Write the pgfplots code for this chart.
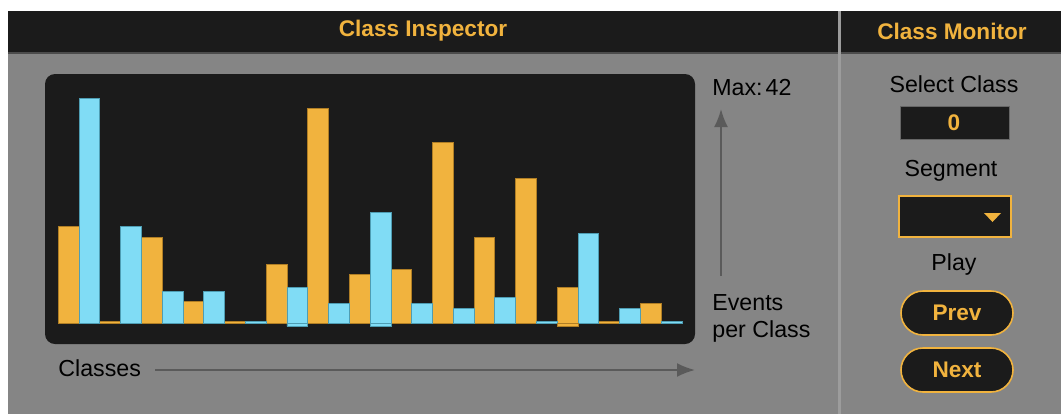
\documentclass[border=0pt]{standalone}
\usepackage{pgfplots}
\pgfplotsset{compat=1.18}
\usetikzlibrary{arrows.meta}
\usepackage{fontspec}
\setmainfont{Liberation Sans}

\definecolor{panel}{HTML}{1B1B1B}
\definecolor{bg}{HTML}{858585}
\definecolor{amber}{HTML}{F1B33E}
\definecolor{amberedge}{HTML}{B07E25}
\definecolor{sky}{HTML}{80DCF5}
\definecolor{skyedge}{HTML}{4E9DB3}
\definecolor{arrowgray}{HTML}{5A5A5A}
\definecolor{sep}{HTML}{9C9C9C}

\newcommand{\body}{\fontsize{11.6}{14}\selectfont}
\newcommand{\head}{\fontsize{11.3}{14}\selectfont\bfseries}

\begin{document}
\begin{tikzpicture}
\useasboundingbox (0,0) rectangle (530.5pt,-207pt);
\begin{scope}[x=0.5pt,y=-0.5pt]
\fill[white] (0,0) rectangle (1061,414);
% panels
\fill[bg] (8,11) rectangle (1061,414);
\fill[panel] (8,11) rectangle (1061,53);
\fill[black!70] (8,52) rectangle (1061,54);
\fill[sep] (838,11) rectangle (841,414);
\node[amber,font=\head] at (423,31) {Class Inspector};
\node[amber,font=\head] at (952,31) {Class Monitor};

% chart background
\fill[panel,rounded corners=5pt] (45,74) rectangle (695,344);

% axis labels and arrows
\node[anchor=west,font=\body,inner sep=0pt] at (712,88) {Max:\kern1.5pt 42};
\draw[arrowgray,line width=1pt,-{Latex[length=9pt,width=7pt]}] (721,276) -- (721,109);
\node[anchor=west,font=\body,inner sep=0pt] at (712,303) {Events};
\node[anchor=west,font=\body,inner sep=0pt] at (712,331) {per Class};
\node[anchor=west,font=\body,inner sep=0pt] at (58,368) {Classes};
\draw[arrowgray,line width=1pt,-{Latex[length=9pt,width=7pt]}] (155,370) -- (695,370);

% class monitor
\node[font=\body] at (954,84) {Select Class};
\fill[panel] (900,106) rectangle (1009,139);
\draw[black!60,line width=0.4pt] (900,106) rectangle (1009,139);
\node[amber,font=\head] at (954,123) {0};
\node[font=\body] at (951,171) {Segment};
\draw[amber,fill=panel,line width=1pt] (899,196) rectangle (1011,237);
\fill[amber] (984,213) -- (1001,213) -- (992.5,222) -- cycle;
\node[font=\body] at (954,264) {Play};
\draw[amber,fill=panel,line width=0.8pt,rounded corners=11pt] (901,291) rectangle (1013,335);
\node[amber,font=\head] at (957,313) {Prev};
\draw[amber,fill=panel,line width=0.8pt,rounded corners=11pt] (901,348) rectangle (1013,392);
\node[amber,font=\head] at (957,370) {Next};
\end{scope}

\begin{axis}[
  at={(29.15pt,-161.65pt)}, anchor=south west,
  scale only axis, width=311.85pt, height=112.65pt,
  xmin=-0.5, xmax=29.5, ymin=0, ymax=42,
  hide axis, clip=false]
% orange classes
\addplot[ybar, bar width=1, bar shift=0pt, fill=amber, draw=amberedge, line width=0.4pt]
coordinates {(0,18) (2,0.4) (4,16) (6,4) (8,0.4) (10,11) (12,40) (14,9.1)
 (16,10.1) (18,33.8) (20,16) (22,27) (24,6.7) (26,0.4) (28,3.7)};
% blue classes
\addplot[ybar, bar width=1, bar shift=0pt, fill=sky, draw=skyedge, line width=0.4pt]
coordinates {(1,42) (3,18) (5,6) (7,6) (9,0.4) (11,6.7) (13,3.7) (15,20.7)
 (17,3.7) (19,2.8) (21,4.8) (23,0.4) (25,16.8) (27,2.8) (29,0.4)};
% parts below the baseline
\addplot[ybar, bar width=1, bar shift=0pt, fill=sky, draw=skyedge, line width=0.4pt]
coordinates {(11,-0.55) (15,-0.55)};
\addplot[ybar, bar width=1, bar shift=0pt, fill=amber, draw=amberedge, line width=0.4pt]
coordinates {(24,-0.55)};
\end{axis}
\end{tikzpicture}
\end{document}
